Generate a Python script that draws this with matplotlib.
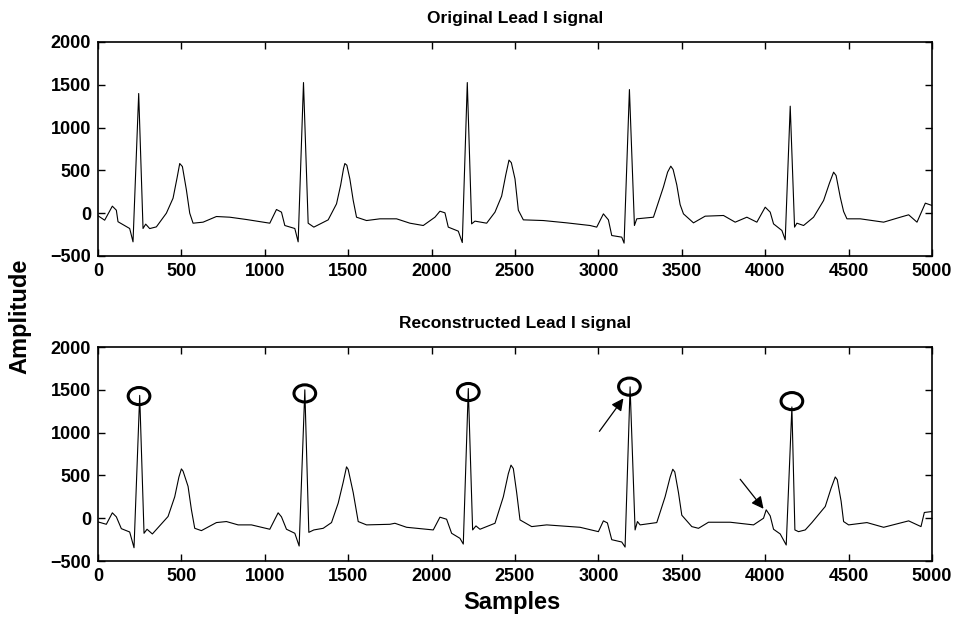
import numpy as np
import matplotlib.pyplot as plt
from matplotlib.patches import Ellipse

plt.rcParams['font.family'] = ['Liberation Sans', 'DejaVu Sans']
plt.rcParams['font.weight'] = 'bold'

# original lead I signal (samples, amplitude)
orig_x = [0, 40, 86, 110, 120, 190, 210, 244, 270, 286, 310, 350, 410, 450, 474, 490, 506,
          530, 550, 570, 630,
          710, 790, 890, 1030, 1070, 1100, 1120, 1180, 1200, 1232, 1260, 1294, 1380,
          1430, 1455, 1472, 1480, 1492, 1510, 1530, 1550, 1610, 1690, 1790, 1870, 1950,
          2020, 2050, 2080, 2100, 2160,
          2184, 2214, 2240, 2260, 2330, 2380, 2420, 2445, 2464, 2478, 2500, 2520, 2550,
          2670, 2810, 2950, 2990,
          3030, 3060, 3080, 3140, 3154, 3186, 3216, 3230, 3330, 3390, 3415, 3434, 3448,
          3470, 3490, 3510,
          3570, 3640, 3750, 3820, 3890, 3950, 4000, 4030, 4050, 4100, 4120, 4150, 4176,
          4190, 4230, 4290, 4350, 4385, 4410, 4425, 4450, 4470, 4490, 4570, 4710, 4810,
          4860, 4910, 4960, 5000]
orig_y = [-30, -82, 82, 35, -100, -179, -335, 1398, -179, -128, -180, -160, 0, 175, 412, 580, 545,
          272, 0, -117, -105,
          -39, -47, -74, -117, 43, 12, -144, -179, -335, 1526, -117, -163, -78,
          109, 330, 520, 580, 560, 400, 150, -47, -86, -66, -66, -117, -144,
          -47, 23, 4, -163, -210,
          -343, 1526, -125, -93, -117, 12, 200, 450, 620, 590, 400, 35, -78,
          -86, -113, -144, -163,
          -8, -78, -261, -280, -350, 1444, -144, -66, -47, 307, 480, 549, 510,
          330, 100, -8,
          -113, -35, -27, -105, -47, -105, 70, 12, -125, -202, -311, 1250, -163,
          -117, -144, -47, 148, 350, 479, 440, 187, 20, -66, -66, -105, -47,
          -19, -105, 117, 90]

# reconstructed lead I signal
rec_x = [0, 50, 86, 110, 140, 190, 216, 250, 276, 294, 326, 420, 460, 485, 500, 510, 540,
         560, 580, 620,
         710, 770, 840, 920, 1030, 1080, 1100, 1130, 1180, 1206, 1240, 1264, 1294, 1350,
         1400, 1440, 1470, 1490, 1500, 1530, 1560, 1610, 1750, 1780, 1850, 2010, 2050,
         2090, 2120, 2170,
         2190, 2220, 2246, 2266, 2290, 2380, 2430, 2460, 2476, 2490, 2510, 2530, 2600,
         2690, 2890, 3000, 3030,
         3054, 3080, 3140, 3160, 3190, 3220, 3234, 3250, 3350, 3400, 3430, 3446, 3458,
         3480, 3500, 3560,
         3600, 3660, 3790, 3930, 3990, 4006, 4030, 4050, 4090, 4126, 4160, 4178, 4200,
         4240, 4280, 4360, 4395, 4420, 4432, 4455, 4470, 4500, 4610, 4710, 4860, 4934,
         4954, 5000]
rec_y = [-43, -71, 63, 16, -122, -161, -345, 1435, -176, -129, -184, 20, 250, 480, 576, 550, 372,
         100, -118, -145,
         -51, -39, -78, -78, -129, 63, 16, -129, -176, -325, 1500, -165, -137, -118,
         -51, 176, 420, 600, 570, 300, -39, -78, -71, -59, -106, -137, 12,
         -12, -176, -235,
         -302, 1515, -137, -90, -129, -59, 250, 520, 620, 580, 300, -20, -98,
         -78, -106, -157, -31,
         -55, -251, -278, -337, 1535, -137, -39, -78, -51, 251, 480, 572, 540,
         300, 35, -98,
         -118, -47, -47, -78, 0, 98, 27, -129, -184, -313, 1300, -137, -157,
         -137, -51, 137, 350, 482, 450, 200, -39, -78, -51, -106, -31, -98,
         67, 78]

# circled peaks and arrows on the reconstruction
circle_x = [246, 1240, 2220, 3186, 4160]
circle_y = [1427, 1458, 1474, 1537, 1368]
arrow_from = [(3006, 1015), (3850, 455)]
arrow_to = [(3150, 1400), (3990, 110)]

fig = plt.figure(figsize=(9.56, 6.21), dpi=100)
ax1 = fig.add_axes([0.1025, 0.5878, 0.8724, 0.3446])
ax2 = fig.add_axes([0.1025, 0.0966, 0.8724, 0.3446])

for ax, xs, ys, title in [(ax1, orig_x, orig_y, 'Original Lead I signal'),
                          (ax2, rec_x, rec_y, 'Reconstructed Lead I signal')]:
    ax.plot(xs, ys, color='black', lw=0.8)
    ax.set_xlim(0, 5000)
    ax.set_ylim(-500, 2000)
    ax.set_xticks(np.arange(0, 5001, 500))
    ax.set_yticks(np.arange(-500, 2001, 500))
    ax.tick_params(direction='in', top=True, right=True, length=5, width=1,
                   labelsize=13, pad=5)
    for lab in ax.get_xticklabels() + ax.get_yticklabels():
        lab.set_fontweight('bold')
    for s in ax.spines.values():
        s.set_linewidth(1.2)
    ax.set_title(title, fontsize=12.5, fontweight='bold', pad=14)

for cx, cy in zip(circle_x, circle_y):
    ax2.add_patch(Ellipse((cx, cy), 130, 200, fill=False, ec='black', lw=2.2))

for (x0, y0), (x1, y1) in zip(arrow_from, arrow_to):
    ax2.annotate('', xy=(x1, y1), xytext=(x0, y0),
                 arrowprops=dict(arrowstyle='-|>', color='black', lw=0.9,
                                 mutation_scale=18, shrinkA=0, shrinkB=0))

fig.text(20 / 956, 1 - 316 / 621, 'Amplitude', rotation=90, fontsize=17,
         fontweight='bold', ha='center', va='center')
fig.text(512 / 956, 1 - 603 / 621, 'Samples', fontsize=17, fontweight='bold',
         ha='center', va='center')

fig.savefig('out.png', dpi=100)
